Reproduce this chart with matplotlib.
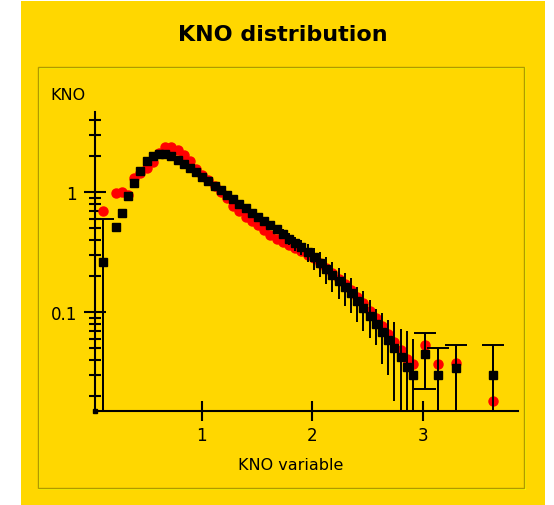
import numpy as np
import matplotlib.pyplot as plt
from matplotlib.patches import Rectangle

# KNO variable z = n/<n>
z = [0.110, 0.222, 0.278, 0.334, 0.390, 0.446, 0.502, 0.558, 0.614, 0.670,
     0.726, 0.782, 0.838, 0.894, 0.950, 1.006, 1.062, 1.118, 1.174, 1.230,
     1.286, 1.342, 1.398, 1.454, 1.510, 1.566, 1.622, 1.678, 1.734, 1.790,
     1.846, 1.902, 1.958, 2.014, 2.070, 2.126, 2.182, 2.238, 2.294, 2.350,
     2.406, 2.462, 2.518, 2.574, 2.630, 2.686, 2.742, 2.798, 2.854, 2.910,
     3.022, 3.134, 3.302, 3.638]

kno_black = [0.26, 0.51, 0.67, 0.93, 1.19, 1.50, 1.81, 2.00, 2.07, 2.06,
             1.99, 1.86, 1.72, 1.60, 1.47, 1.34, 1.23, 1.12, 1.03, 0.95,
             0.87, 0.79, 0.73, 0.67, 0.62, 0.575, 0.53, 0.49, 0.45, 0.41,
             0.375, 0.35, 0.315, 0.285, 0.255, 0.228, 0.204, 0.181, 0.162, 0.145,
             0.123, 0.109, 0.093, 0.080, 0.068, 0.058, 0.050, 0.042, 0.035, 0.030,
             0.045, 0.030, 0.034, 0.030]

err_black = [0.34, 0.03, 0.04, 0.05, 0.06, 0.07, 0.08, 0.08, 0.08, 0.08,
             0.07, 0.07, 0.06, 0.06, 0.05, 0.05, 0.05, 0.04, 0.04, 0.04,
             0.04, 0.04, 0.045, 0.045, 0.045, 0.045, 0.045, 0.045, 0.045, 0.045,
             0.05, 0.05, 0.055, 0.06, 0.06, 0.058, 0.056, 0.052, 0.05, 0.046,
             0.04, 0.04, 0.032, 0.027, 0.031, 0.028, 0.032, 0.03, 0.035, 0.03,
             0.022, 0.02, 0.019, 0.023]

kno_red = [0.69, 0.98, 1.00, 0.95, 1.30, 1.45, 1.60, 1.78, 2.10, 2.38,
           2.36, 2.25, 2.05, 1.80, 1.55, 1.38, 1.25, 1.12, 1.00, 0.90,
           0.76, 0.69, 0.62, 0.57, 0.53, 0.48, 0.44, 0.41, 0.385, 0.36,
           0.34, 0.32, 0.30, 0.28, 0.255, 0.232, 0.21, 0.19, 0.17, 0.152,
           0.134, 0.118, 0.103, 0.089, 0.077, 0.066, 0.056, 0.048, 0.041, 0.037,
           0.053, 0.037, 0.038, 0.018]

capped = [0, 50, 51, 52, 53]   # points drawn with end caps
zero_x = [0.036]
zero_y = [0.015]

W, H = 554, 506
yellow = "#FFD700"

def fx(px):
    return px / W

def fy(py):
    return 1 - py / H

fig = plt.figure(figsize=(W / 100, H / 100), dpi=100, facecolor="white")
fig.patches.append(Rectangle((fx(21), 0), fx(545) - fx(21), fy(2), transform=fig.transFigure,
                             fc=yellow, ec="none", zorder=0))
fig.patches.append(Rectangle((fx(39), fy(490)), fx(525) - fx(39), fy(69) - fy(490),
                             transform=fig.transFigure, fc="none", ec="#FFFF00", lw=1.2, zorder=1))
fig.patches.append(Rectangle((fx(38), fy(489)), fx(524) - fx(38), fy(68) - fy(489),
                             transform=fig.transFigure, fc="none", ec="#B09A00", lw=1.0, zorder=1))

ax = fig.add_axes([fx(95), fy(412), fx(518) - fx(95), fy(113) - fy(412)], zorder=5)
ax.set_facecolor("none")
ax.set_yscale("log")
ax.set_xlim(0.036, 3.86)
ax.set_ylim(0.015, 4.64)

ax.plot(z, kno_red, "o", color="red", ms=6.5, mec="red", zorder=2)
ax.errorbar(z, kno_black, yerr=err_black, fmt="s", color="black", ms=6,
            elinewidth=1.4, capsize=0, zorder=3)
ax.errorbar([z[i] for i in capped], [kno_black[i] for i in capped],
            yerr=[err_black[i] for i in capped], fmt="none", ecolor="black",
            elinewidth=1.4, capsize=8, capthick=1.4, zorder=3)
ax.plot(zero_x, zero_y, "s", color="black", ms=3.5, clip_on=False, zorder=4)

for s in ["top", "right"]:
    ax.spines[s].set_visible(False)
for s in ["left", "bottom"]:
    ax.spines[s].set_linewidth(1.5)

ax.set_xticks([1, 2, 3])
ax.set_xticklabels(["1", "2", "3"])
ax.xaxis.set_minor_locator(plt.NullLocator())
ax.set_yticks([0.1, 1])
ax.set_yticklabels(["0.1", "1"])
ax.tick_params(axis="both", which="major", direction="inout", width=1.5, labelsize=12)
ax.tick_params(axis="x", which="major", length=14, pad=4)
ax.tick_params(axis="y", which="major", length=16, pad=5)
ax.tick_params(axis="y", which="minor", direction="inout", length=9, width=1.5)

fig.text(fx(283), fy(35), "KNO distribution", ha="center", va="center",
         fontsize=16, fontweight="bold")
fig.text(fx(50), fy(96), "KNO", ha="left", va="center", fontsize=11.5)
fig.text(fx(291), fy(466), "KNO variable", ha="center", va="center", fontsize=11.5)

fig.savefig("out.png", dpi=100, facecolor="white")
